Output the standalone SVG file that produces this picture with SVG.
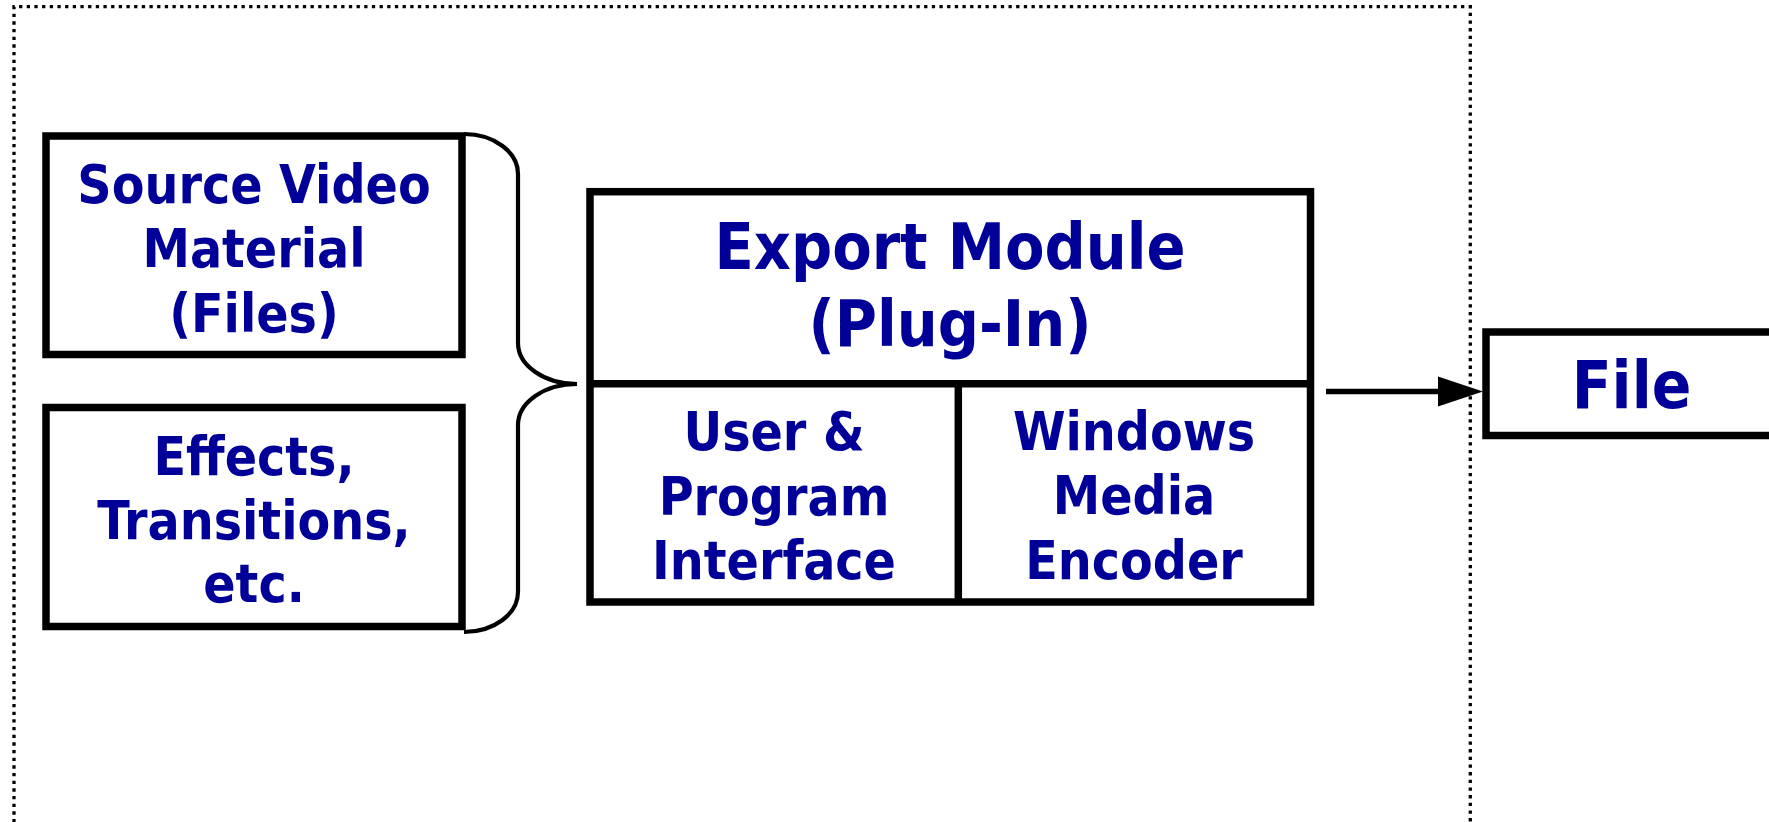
<svg xmlns="http://www.w3.org/2000/svg" width="1769" height="822" viewBox="0 0 1769 822">
<style>
.box{fill:#fff;stroke:#000;stroke-width:7.5}
.ln{fill:none;stroke:#000;stroke-width:7.5}
.t{font-family:"DejaVu Sans","Noto Sans",sans-serif;font-weight:bold;font-stretch:condensed;fill:#000099;text-anchor:middle}
.m{font-size:53px}
.l{font-size:64px}
</style>
<rect width="1769" height="822" fill="#fff"/>
<path id="frame" d="M14,830 V6.7 H1470.3 V830" fill="none" stroke="#000" stroke-width="3.3" stroke-dasharray="3.3 4.37"/>
<g id="source">
<rect class="box" x="46" y="136" width="416" height="218.5"/>
<text class="t m" x="254" y="202.5">Source Video</text>
<text class="t m" x="254" y="267">Material</text>
<text class="t m" x="254" y="331.5">(Files)</text>
</g>
<g id="effects">
<rect class="box" x="46" y="407.5" width="416" height="219"/>
<text class="t m" x="254" y="475">Effects,</text>
<text class="t m" x="254" y="538.5">Transitions,</text>
<text class="t m" x="254" y="601.5">etc.</text>
</g>
<g id="export">
<rect class="box" x="590" y="191.7" width="720.5" height="410.3"/>
<line class="ln" x1="590" y1="383.7" x2="1310.5" y2="383.7"/>
<line class="ln" x1="958.3" y1="383.7" x2="958.3" y2="602"/>
<text class="t l" x="950" y="269.3">Export Module</text>
<text class="t l" x="950" y="346">(Plug-In)</text>
<text class="t m" x="774" y="450">User &amp;</text>
<text class="t m" x="774" y="515">Program</text>
<text class="t m" x="774" y="579">Interface</text>
<text class="t m" x="1134" y="450">Windows</text>
<text class="t m" x="1134" y="514">Media</text>
<text class="t m" x="1134" y="578.5">Encoder</text>
</g>
<g id="file">
<rect class="box" x="1486" y="332" width="300" height="103.5"/>
<text class="t" style="font-size:65px" x="1631.5" y="408.3">File</text>
</g>
<g id="connectors">
<path d="M464,134 A54,40 0 0 1 518,174 L518,343 A59,41 0 0 0 577,384 A59,41 0 0 0 518,425 L518,592 A54,40 0 0 1 464,632" fill="none" stroke="#000" stroke-width="4.2"/>
<line x1="1326" y1="391.5" x2="1442" y2="391.5" stroke="#000" stroke-width="5.5"/>
<polygon points="1438,376.5 1483,391.5 1438,406.5" fill="#000"/>
</g>
</svg>
